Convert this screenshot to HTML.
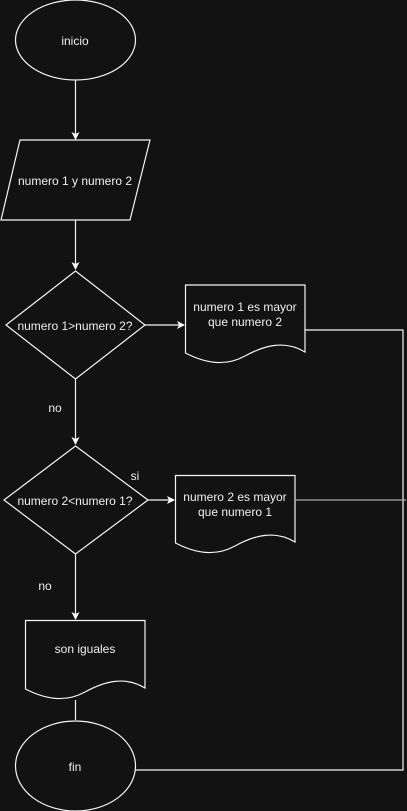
<!DOCTYPE html>
<html><head><meta charset="utf-8"><style>
html,body{margin:0;padding:0;background:#121212;}
svg{display:block}
text{font-family:"Liberation Sans",Arial,sans-serif;font-size:12px;fill:#f0f0f0;text-anchor:middle;}
</style></head><body>
<svg width="407" height="811" viewBox="0 0 407 811" xmlns="http://www.w3.org/2000/svg">
<defs><marker id="a" markerWidth="8" markerHeight="8" refX="7" refY="4" orient="auto" markerUnits="userSpaceOnUse"><path d="M0,0 L8,4 L0,8 L2,4 Z" fill="#fff"/></marker></defs>
<g fill="none" stroke="#f5f5f5" stroke-width="1.2">
<ellipse cx="75.5" cy="40" rx="60" ry="40"/>
<line x1="75.5" y1="80" x2="75.5" y2="139" marker-end="url(#a)"/>
<polygon points="20,140 150,140 130,220 1,220"/>
<line x1="75.5" y1="220" x2="75.5" y2="269" marker-end="url(#a)"/>
<polygon points="75.5,271 145,325 75.5,379 6,325"/>
<line x1="145" y1="325" x2="184" y2="325" marker-end="url(#a)"/>
<path d="M185.5,285 H305 V352 C285,340 265,345 245,356 C225,367 205,363 185.5,353 Z"/>
<polyline points="305,330 403,330 403,770 135,770"/>
<line x1="75.5" y1="379" x2="75.5" y2="444" marker-end="url(#a)"/>
<polygon points="75.5,446 148,500 75.5,554 4,500"/>
<line x1="148" y1="500" x2="174" y2="500" marker-end="url(#a)"/>
<path d="M175.5,475.5 H295 V542 C275,530 255,535 235,546 C215,557 195,553 175.5,543 Z"/>
<line x1="295" y1="500" x2="406" y2="500" stroke="#aaa"/>
<line x1="75.5" y1="554" x2="75.5" y2="619" marker-end="url(#a)"/>
<path d="M25.5,620.5 H145 V688 C125,676 105,681 85,692 C65,703 45,699 25.5,689 Z"/>
<line x1="75.5" y1="700" x2="75.5" y2="720"/>
<ellipse cx="75.5" cy="766" rx="60" ry="45"/>
</g>
<text x="75" y="45">inicio</text>
<text x="75" y="185">numero 1 y numero 2</text>
<text x="75" y="330">numero 1&gt;numero 2?</text>
<text x="245" y="311">numero 1 es mayor</text>
<text x="245" y="326">que numero 2</text>
<text x="55" y="412">no</text>
<text x="135" y="480">si</text>
<text x="75" y="505">numero 2&lt;numero 1?</text>
<text x="235" y="501">numero 2 es mayor</text>
<text x="235" y="516">que numero 1</text>
<text x="45" y="590">no</text>
<text x="85" y="653">son iguales</text>
<text x="75" y="771">fin</text>
</svg>
</body></html>
